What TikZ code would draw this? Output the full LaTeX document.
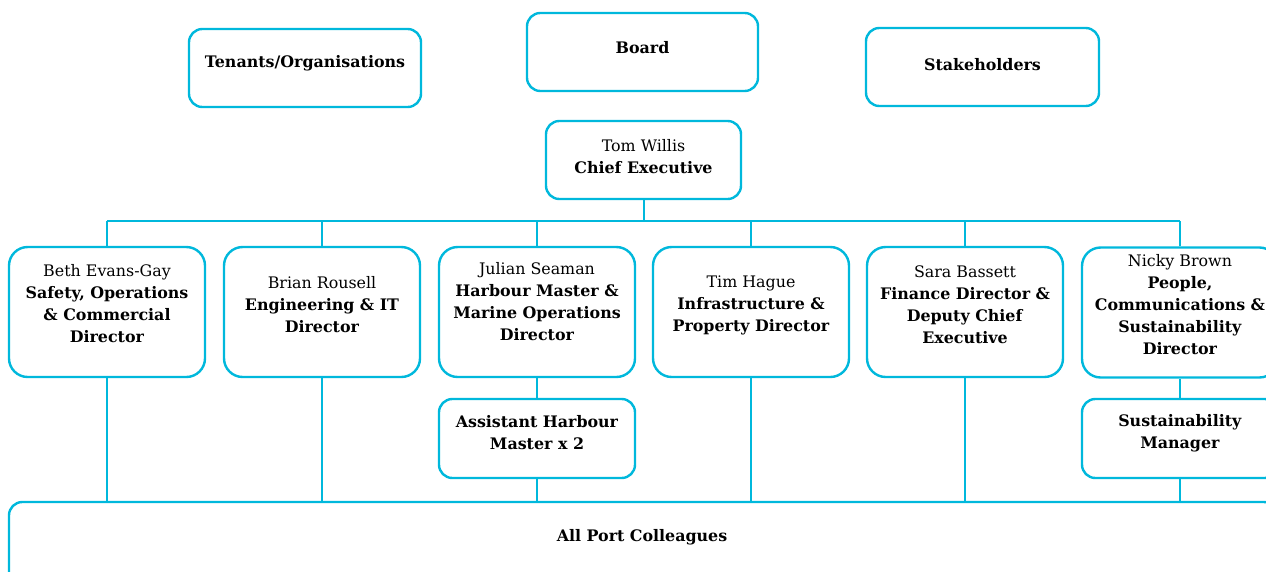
\documentclass[tikz,border=0pt]{standalone}
\usepackage{fontspec}
\setmainfont{DejaVu Serif}
\definecolor{cy}{RGB}{0,184,220}
\tikzset{
  box/.style={draw=cy, line width=1.8pt, rounded corners=10pt, fill=white, inner sep=0pt},
  dirbox/.style={box, rounded corners=14pt, minimum width=196*0.75pt, minimum height=130*0.75pt},
  subbox/.style={box, minimum width=196*0.75pt, minimum height=79*0.75pt},
  topbox/.style={box, minimum width=232*0.75pt, minimum height=78*0.75pt},
  txt/.style={align=center, inner sep=0pt, font=\fontsize{11.9}{16.5}\selectfont},
  conn/.style={draw=cy, line width=1.5pt}
}
\begin{document}
\begin{tikzpicture}[x=0.75pt, y=-0.75pt]
\useasboundingbox (0,0) rectangle (1266,571);
\clip (0,0) rectangle (1266,571);
% top row
\node[topbox] (ten) at (305,68) {};
\node[txt] (tent) at (305,63) {\textbf{Tenants/Organisations}};
\node[topbox, minimum width=231*0.75pt] (board) at (642.5,52) {};
\node[txt] (boardt) at (642.5,48) {\textbf{Board}};
\node[topbox, minimum width=233*0.75pt] (stake) at (982.5,67) {};
\node[txt] (staket) at (982.5,65) {\textbf{Stakeholders}};
% CEO
\node[box, minimum width=195*0.75pt, minimum height=78*0.75pt] (ceo) at (643.5,160) {};
\node[txt] (ceot) at (643.5,157) {Tom Willis\\\textbf{Chief Executive}};
% bus
\coordinate (busL) at (107,221);
\coordinate (busR) at (1180,221);
% directors
\node[dirbox] (beth) at (107,312) {};
\node[txt] (betht) at (107,304) {Beth Evans-Gay\\\textbf{Safety, Operations}\\\textbf{\& Commercial}\\\textbf{Director}};
\node[dirbox] (brian) at (322,312) {};
\node[txt] (briant) at (322,305) {Brian Rousell\\\textbf{Engineering \& IT}\\\textbf{Director}};
\node[dirbox] (julian) at (537,312) {};
\node[txt] (juliant) at (537,302) {Julian Seaman\\\textbf{Harbour Master \&}\\\textbf{Marine Operations}\\\textbf{Director}};
\node[dirbox] (tim) at (751,312) {};
\node[txt] (timt) at (751,305) {Tim Hague\\\textbf{Infrastructure \&}\\\textbf{Property Director}};
\node[dirbox] (sara) at (965,312) {};
\node[txt] (sarat) at (965,305) {Sara Bassett\\\textbf{Finance Director \&}\\\textbf{Deputy Chief}\\\textbf{Executive}};
\node[dirbox] (nicky) at (1180,312.5) {};
\node[txt] (nickyt) at (1180,305) {Nicky Brown\\\textbf{People,}\\\textbf{Communications \&}\\\textbf{Sustainability}\\\textbf{Director}};
% sub boxes
\node[subbox] (ahm) at (537,438.5) {};
\node[txt] (ahmt) at (537,433) {\textbf{Assistant Harbour}\\\textbf{Master x 2}};
\node[subbox] (sm) at (1180,438.5) {};
\node[txt] (smt) at (1180,433) {\textbf{Sustainability}\\\textbf{Manager}};
% all port
\node[box, minimum width=1268*0.75pt, minimum height=100*0.75pt] (all) at (643,552) {};
\node[txt] (allt) at (642,537) {\textbf{All Port Colleagues}};
% connectors
\draw[conn] (ceo.south) -- (ceo.south |- busL);
\draw[conn] (busL) -- (busR);
\foreach \n in {beth,brian,julian,tim,sara,nicky}{
  \draw[conn] (\n.north) -- (\n.north |- busL);
}
\foreach \n in {beth,brian,tim,sara}{
  \draw[conn] (\n.south) -- (\n.south |- all.north);
}
\draw[conn] (julian.south) -- (ahm.north);
\draw[conn] (ahm.south) -- (ahm.south |- all.north);
\draw[conn] (nicky.south) -- (sm.north);
\draw[conn] (sm.south) -- (sm.south |- all.north);
\end{tikzpicture}
\end{document}
